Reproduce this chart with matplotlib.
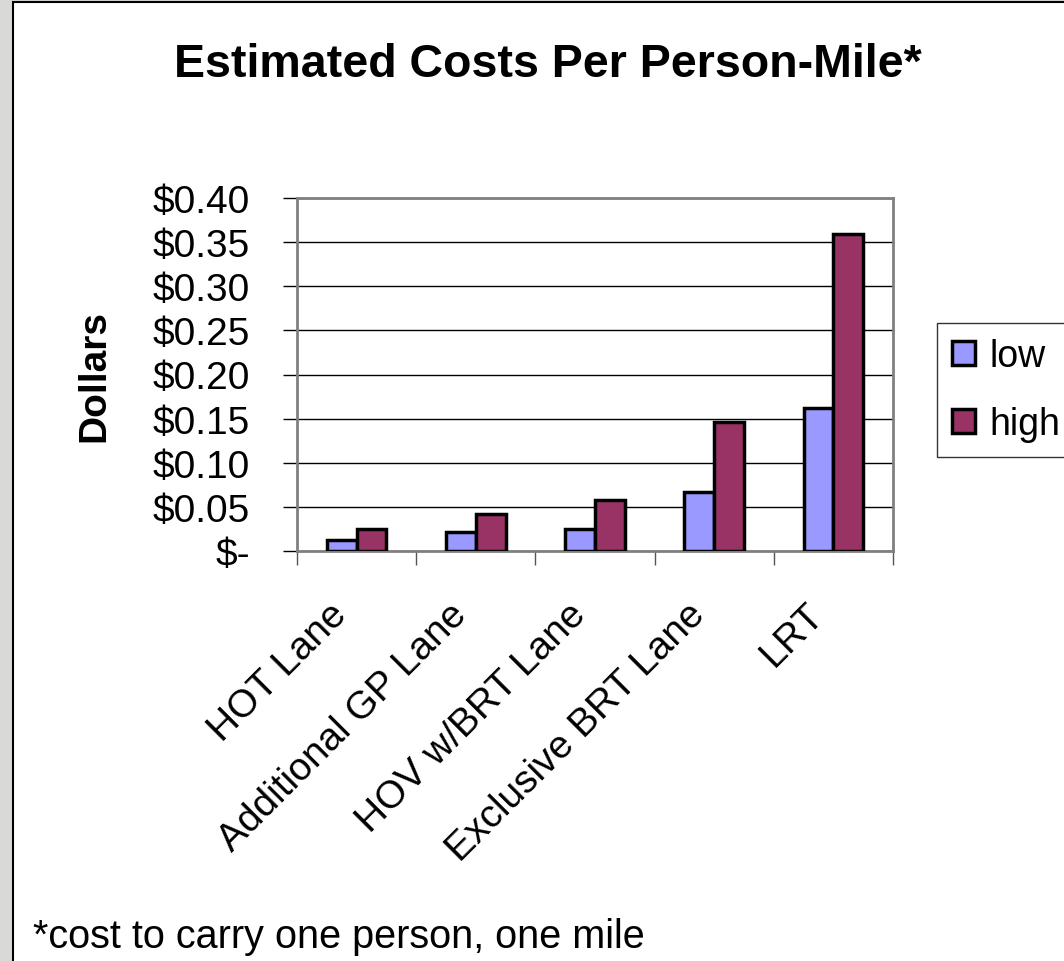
import numpy as np
import matplotlib
matplotlib.use("Agg")
import matplotlib.pyplot as plt
from matplotlib.patches import Rectangle
from matplotlib.transforms import ScaledTranslation

plt.rcParams['font.family'] = ['Liberation Sans', 'DejaVu Sans']

# data
categories = ['HOT Lane', 'Additional GP Lane', 'HOV w/BRT Lane', 'Exclusive BRT Lane', 'LRT']
low = [0.0125, 0.021, 0.025, 0.067, 0.162]
high = [0.025, 0.042, 0.058, 0.146, 0.359]
y_ticks = [0, 0.05, 0.10, 0.15, 0.20, 0.25, 0.30, 0.35, 0.40]
y_labels = ['$-', '$0.05', '$0.10', '$0.15', '$0.20', '$0.25', '$0.30', '$0.35', '$0.40']

fig = plt.figure(figsize=(10.64, 9.62), dpi=100)
fig.patch.set_facecolor('#d9d9d7')

# white slide panel with a black border (behind the axes)
panel = Rectangle((13 / 1064, -0.01), 1.0, 1 - 3 / 962 + 0.01, transform=fig.transFigure,
                  facecolor='white', edgecolor='black', linewidth=1.5, zorder=-1)
fig.patches.append(panel)

ax = fig.add_axes([297 / 1064, 1 - 552 / 962, 596 / 1064, 353 / 962])
ax.set_facecolor('white')

x = np.arange(len(categories))
w = 0.25
ax.bar(x - w / 2, low, w, color='#9999ff', edgecolor='black', linewidth=2.5, label='low', zorder=3)
ax.bar(x + w / 2, high, w, color='#993366', edgecolor='black', linewidth=2.5, label='high', zorder=3)

ax.set_xlim(-0.5, len(categories) - 0.5)
ax.set_ylim(0, 0.40)
ax.set_yticks(y_ticks)
ax.set_yticklabels(y_labels, fontsize=28)
ax.yaxis.grid(True, color='black', linewidth=1)
ax.set_axisbelow(True)
ax.tick_params(axis='y', length=10, width=1, color='black', pad=24, direction='out')

# category boundary ticks, labels at centres
ax.set_xticks(np.arange(-0.5, len(categories)), minor=True)
ax.set_xticks(x)
ax.tick_params(axis='x', which='minor', length=10, width=1, color='#555555', direction='out')
ax.tick_params(axis='x', which='major', length=0)
ax.set_xticklabels(categories, fontsize=28, rotation=45, ha='right', va='center',
                   rotation_mode='anchor')
for lbl in ax.get_xticklabels():
    lbl.set_transform(lbl.get_transform() + ScaledTranslation(-0.15, -0.53, fig.dpi_scale_trans))

for s in ax.spines.values():
    s.set_color('#808080')
    s.set_linewidth(2)

ax.set_ylabel('Dollars', fontsize=28, fontweight='bold', va='center')
ax.yaxis.set_label_coords((94.5 - 297) / 596, 0.5)

fig.text(548 / 1064, 1 - 77 / 962, 'Estimated Costs Per Person-Mile*', fontsize=33.5,
         fontweight='bold', ha='center', va='baseline')

leg = ax.legend(loc='upper left', bbox_to_anchor=(937 / 1064, 1 - 324 / 962),
                bbox_transform=fig.transFigure, fontsize=27, frameon=True, fancybox=False,
                handlelength=0.6, handleheight=0.6, handletextpad=0.4, labelspacing=0.85,
                borderpad=0.4, borderaxespad=0)
leg.get_frame().set_edgecolor('black')
leg.get_frame().set_linewidth(1)
for h in leg.legend_handles:
    h.set_linewidth(2.5)

fig.text(33 / 1064, 1 - 937 / 962, '*cost to carry one person, one mile', fontsize=28.5,
         ha='left', va='center')

fig.savefig('out.png', dpi=100, facecolor=fig.get_facecolor())
